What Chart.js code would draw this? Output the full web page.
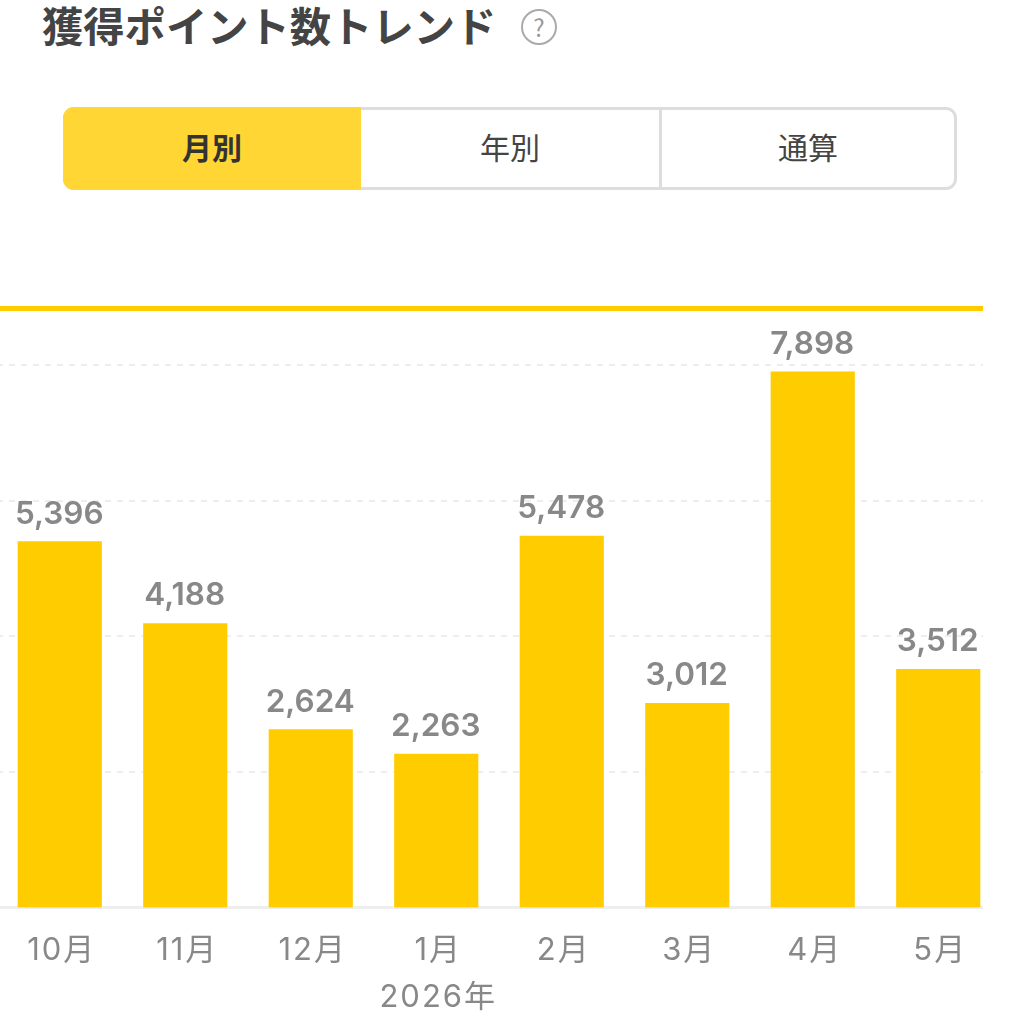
<!DOCTYPE html>
<html lang="ja">
<head>
    <meta charset="UTF-8">
    <title>獲得ポイント数トレンド</title>
    <script src="https://cdn.jsdelivr.net/npm/chart.js"></script>
    <style>
        html, body { margin: 0; padding: 0; background: #fff; }
        body { width: 1020px; height: 1024px; position: relative; overflow: hidden; font-family: "Noto Sans CJK JP", sans-serif; }
        h2 { position: absolute; left: 42px; top: -3px; margin: 0; font-size: 41.3px; line-height: 54px; font-weight: 700; color: #444; white-space: nowrap; }
        .help { position: absolute; left: 521px; top: 9px; width: 32px; height: 32px; border: 2.5px solid #aaa; border-radius: 50%; text-align: center; font-size: 24px; line-height: 31px; color: #999; }
        .tabs { position: absolute; left: 63px; top: 107px; width: 894px; height: 83px; box-sizing: border-box; border: 3px solid #ddd; border-radius: 11px; display: flex; overflow: visible; }
        .tabs div { text-align: center; font-size: 30px; line-height: 73px; color: #444; box-sizing: border-box; }
        .tabs .on { width: 298px; margin: -3px 0 -3px -3px; line-height: 79px; background: #ffd633; border-radius: 11px 0 0 11px; font-weight: 700; color: #333; }
        .tabs .mid { width: 301px; border-right: 3px solid #ddd; }
        .tabs .last { flex: 1; }
        .topline { position: absolute; left: 0; top: 306px; width: 983px; height: 5px; background: #ffcc00; }
        .wrap { position: absolute; left: 0; top: 309px; width: 983px; height: 715px; overflow: hidden; }
        canvas { position: absolute; left: -3px; top: 0; }
    </style>
</head>
<body>
    <h2>獲得ポイント数トレンド</h2>
    <div class="help">?</div>
    <div class="tabs">
        <div class="on">月別</div>
        <div class="mid">年別</div>
        <div class="last">通算</div>
    </div>
    <div class="wrap"><canvas id="myChart" width="1004" height="715"></canvas></div>
    <div class="topline"></div>
    <script>
        const categories = ['10月', '11月', '12月', ['1月', '2026年'], '2月', '3月', '4月', '5月'];
        const values = [5396, 4188, 2624, 2263, 5478, 3012, 7898, 3512];
        const gridValues = [2000, 4000, 6000, 8000];
        const yMax = 8825;

        // wider tick text, and value labels above the bars
        const barLabels = {
            id: 'barLabels',
            beforeDraw(chart) {
                chart.ctx.letterSpacing = '2px';
            },
            afterDatasetsDraw(chart) {
                const ctx = chart.ctx;
                ctx.save();
                ctx.letterSpacing = '0px';
                ctx.font = '600 31.5px Inter, "Noto Sans", sans-serif';
                ctx.fillStyle = '#888888';
                ctx.textAlign = 'center';
                ctx.textBaseline = 'alphabetic';
                chart.getDatasetMeta(0).data.forEach((bar, i) => {
                    ctx.fillText(values[i].toLocaleString('en-US'), bar.x - 0.5, bar.y - 18);
                });
                ctx.restore();
            }
        };

        new Chart(document.getElementById('myChart'), {
            type: 'bar',
            data: {
                labels: categories,
                datasets: [{ data: values, backgroundColor: '#ffcc00', barThickness: 83.5 }]
            },
            options: {
                responsive: false,
                animation: false,
                layout: { padding: 0 },
                plugins: { legend: { display: false }, tooltip: { enabled: false } },
                scales: {
                    x: {
                        grid: { display: false },
                        border: { color: '#eeeeee', width: 3 },
                        ticks: {
                            color: '#888888',
                            padding: 12,
                            labelOffset: 2,
                            maxRotation: 0,
                            autoSkip: false,
                            font: { family: 'Inter, "Noto Sans CJK JP", sans-serif', size: 31, lineHeight: 1.5 }
                        },
                        afterFit(scale) { scale.height = 116.5; }
                    },
                    y: {
                        min: 0,
                        max: yMax,
                        afterBuildTicks(scale) { scale.ticks = gridValues.map(v => ({ value: v })); },
                        afterFit(scale) { scale.width = 0; },
                        ticks: { display: false },
                        grid: { color: '#eeeeee', lineWidth: 2, tickLength: 0, drawTicks: false },
                        border: { display: false, dash: [6, 6] }
                    }
                }
            },
            plugins: [barLabels]
        });
    </script>
</body>
</html>
